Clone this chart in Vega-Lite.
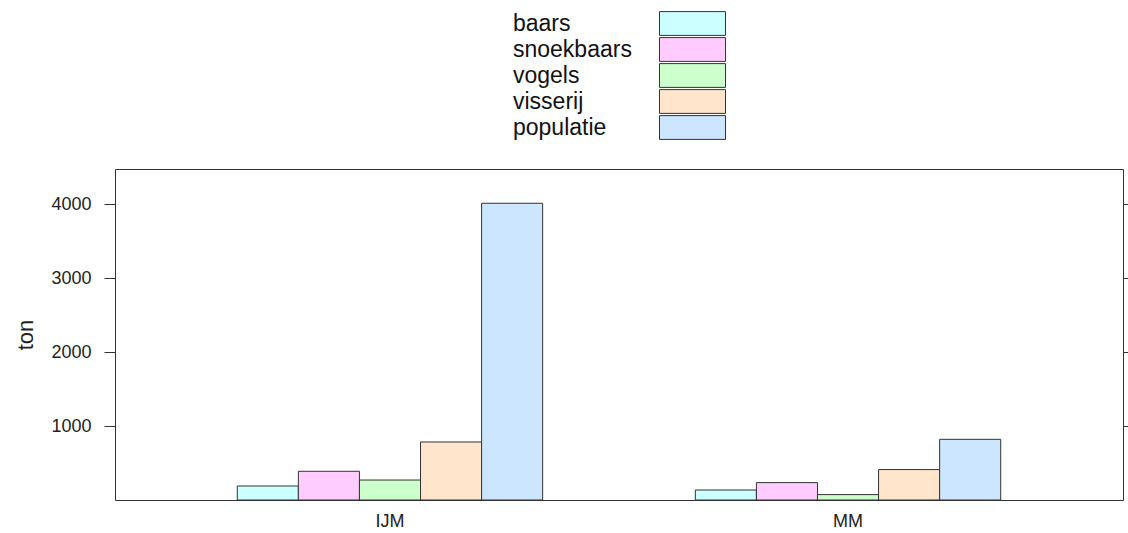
{
  "$schema": "https://vega.github.io/schema/vega-lite/v6.json",
  "autosize": {"type": "none"},
  "width": 1008,
  "height": 331,
  "padding": {"left": 115, "top": 169, "right": 5, "bottom": 33},
  "background": "white",
  "config": {
    "font": "Liberation Sans",
    "view": {"stroke": "#333333", "strokeWidth": 1}
  },
  "data": {
    "values": [
      {"gebied": "IJM", "bron": "baars", "ton": 189},
      {"gebied": "IJM", "bron": "snoekbaars", "ton": 388},
      {"gebied": "IJM", "bron": "vogels", "ton": 270},
      {"gebied": "IJM", "bron": "visserij", "ton": 784},
      {"gebied": "IJM", "bron": "populatie", "ton": 4010},
      {"gebied": "MM", "bron": "baars", "ton": 135},
      {"gebied": "MM", "bron": "snoekbaars", "ton": 235},
      {"gebied": "MM", "bron": "vogels", "ton": 73},
      {"gebied": "MM", "bron": "visserij", "ton": 411},
      {"gebied": "MM", "bron": "populatie", "ton": 820}
    ]
  },
  "resolve": {"axis": {"y": "independent"}},
  "layer": [
    {
      "mark": {"type": "bar", "stroke": "#333333", "strokeWidth": 1, "opacity": 1},
      "encoding": {
        "x": {
          "field": "gebied",
          "type": "nominal",
          "scale": {"paddingInner": 0.3333, "paddingOuter": 0.267},
          "axis": {
            "title": null,
            "labelAngle": 0,
            "ticks": false,
            "domain": false,
            "labelPadding": 12,
            "labelFontSize": 18,
            "labelColor": "#222222",
            "labelFont": "Liberation Sans"
          }
        },
        "xOffset": {
          "field": "bron",
          "type": "nominal",
          "sort": ["baars", "snoekbaars", "vogels", "visserij", "populatie"],
          "scale": {"paddingInner": 0, "paddingOuter": 0}
        },
        "y": {
          "field": "ton",
          "type": "quantitative",
          "scale": {"domain": [0, 4473], "nice": false, "zero": true},
          "axis": {
            "values": [1000, 2000, 3000, 4000],
            "format": "d",
            "grid": false,
            "domain": false,
            "tickSize": 11,
            "tickColor": "#333333",
            "labelPadding": 13,
            "labelFontSize": 18,
            "labelColor": "#222222",
            "labelFont": "Liberation Sans",
            "title": "ton",
            "titleFontSize": 22,
            "titleFontWeight": "normal",
            "titleColor": "#222222",
            "titleFont": "Liberation Sans",
            "titleAngle": 270,
            "titleX": -83,
            "titleY": 165.5,
            "titleAlign": "center",
            "titleBaseline": "alphabetic"
          }
        },
        "color": {
          "field": "bron",
          "type": "nominal",
          "sort": ["baars", "snoekbaars", "vogels", "visserij", "populatie"],
          "scale": {
            "domain": ["baars", "snoekbaars", "vogels", "visserij", "populatie"],
            "range": ["#CCFFFF", "#FFCCFF", "#CCFFCC", "#FFE5CC", "#CCE6FF"]
          },
          "legend": {
            "title": null,
            "orient": "none",
            "legendX": 566,
            "legendY": -157,
            "padding": 0,
            "rowPadding": -4,
            "symbolType": "M-3.3,-1.19H3.3V1.19H-3.3Z",
            "symbolSize": 400,
            "symbolStrokeColor": "#333333",
            "symbolStrokeWidth": 1,
            "symbolOpacity": 1,
            "labelOffset": -191,
            "labelAlign": "left",
            "labelFontSize": 23,
            "labelFont": "Liberation Sans",
            "labelColor": "#111111",
            "labelLimit": 300
          }
        }
      }
    },
    {
      "mark": {"type": "tick", "opacity": 0},
      "encoding": {
        "y": {
          "field": "ton",
          "type": "quantitative",
          "axis": {
            "orient": "right",
            "values": [1000, 2000, 3000, 4000],
            "labels": false,
            "grid": false,
            "domain": false,
            "tickSize": 11,
            "tickColor": "#333333",
            "title": null
          }
        }
      }
    }
  ]
}
